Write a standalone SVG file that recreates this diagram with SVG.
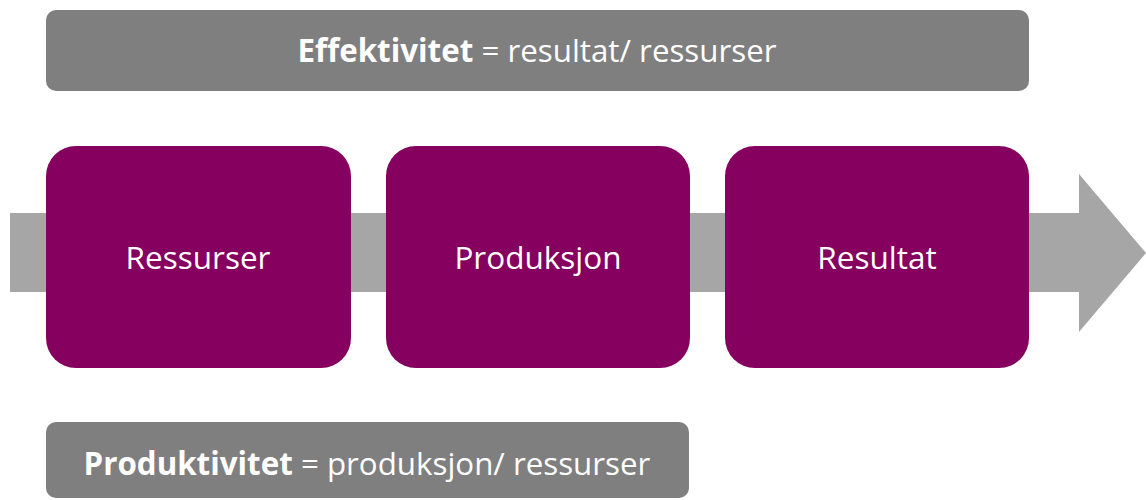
<svg xmlns="http://www.w3.org/2000/svg" width="1146" height="500" viewBox="0 0 1146 500">
  <style>
    .bar { fill: #7f7f7f; }
    .node { fill: #85005f; }
    .lbl { font-family: "Open Sans", "Noto Sans", sans-serif; fill: #ffffff; text-anchor: middle; }
    .node-lbl { font-size: 31.5px; }
    .bar-lbl { font-size: 31.3px; }
    .b { font-weight: bold; }
  </style>

  <!-- flow arrow behind the process steps -->
  <g id="connectors">
    <polygon fill="#a6a6a6" points="10,213 1079,213 1079,174 1146,253 1079,332 1079,292 10,292"/>
  </g>

  <g id="effektivitet">
    <rect class="bar" x="46" y="10" width="983" height="81" rx="10"/>
    <text class="lbl bar-lbl" x="537" y="62"><tspan class="b">Effektivitet</tspan> = resultat/ ressurser</text>
  </g>

  <g id="ressurser">
    <rect class="node" x="46" y="146" width="305" height="222" rx="30"/>
    <text class="lbl node-lbl" x="198" y="269">Ressurser</text>
  </g>

  <g id="produksjon">
    <rect class="node" x="386" y="146" width="304" height="222" rx="30"/>
    <text class="lbl node-lbl" x="538" y="269">Produksjon</text>
  </g>

  <g id="resultat">
    <rect class="node" x="725" y="146" width="304" height="222" rx="30"/>
    <text class="lbl node-lbl" x="877" y="269">Resultat</text>
  </g>

  <g id="produktivitet">
    <rect class="bar" x="46" y="422" width="643" height="76" rx="10"/>
    <text class="lbl bar-lbl" x="367" y="475"><tspan class="b">Produktivitet</tspan> = produksjon/ ressurser</text>
  </g>
</svg>
